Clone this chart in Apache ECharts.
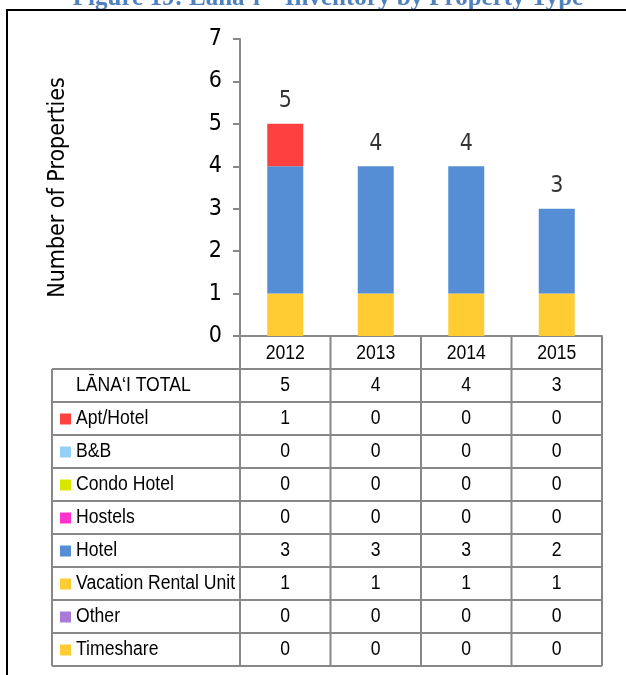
<!DOCTYPE html>
<html>
<head>
<meta charset="utf-8">
<script src="https://cdn.jsdelivr.net/npm/echarts@6/dist/echarts.min.js"></script>
<style>
  html, body { margin: 0; padding: 0; background: #fff; }
  #chart { width: 626px; height: 675px; }
</style>
</head>
<body>
<div id="chart"></div>
<script>
// 数据
var years = ['2012', '2013', '2014', '2015'];
var totals = [5, 4, 4, 3];
var aptHotel = [1, 0, 0, 0];
var bnb = [0, 0, 0, 0];
var condoHotel = [0, 0, 0, 0];
var hostels = [0, 0, 0, 0];
var hotel = [3, 3, 3, 2];
var vacationRental = [1, 1, 1, 1];
var other = [0, 0, 0, 0];
var timeshare = [0, 0, 0, 0];

var FONT = "'DejaVu Sans Condensed', 'Liberation Sans', sans-serif";
var NARROW = "'Liberation Sans', Arial, sans-serif";

// 表格行（顺序同原图）
var rows = [
	{ name: 'Apt/Hotel', color: '#ff4040', data: aptHotel },
	{ name: 'B&B', color: '#93d1f5', data: bnb },
	{ name: 'Condo Hotel', color: '#d9e600', data: condoHotel },
	{ name: 'Hostels', color: '#ff33cc', data: hostels },
	{ name: 'Hotel', color: '#558ed5', data: hotel },
	{ name: 'Vacation Rental Unit', color: '#ffcc33', data: vacationRental },
	{ name: 'Other', color: '#a87bd6', data: other },
	{ name: 'Timeshare', color: '#ffcc33', data: timeshare }
];
// 堆叠顺序（底部在前）
var stackOrder = [7, 6, 5, 4, 3, 2, 1, 0];

var chart = echarts.init(document.getElementById('chart'));

var series = stackOrder.map(function(i) {
	var r = rows[i];
	return {
		name : r.name,
		type : 'bar',
		stack : 'total',
		barWidth : 36,
		itemStyle : { color : r.color },
		data : r.data
	};
});
// 合计标签
series.push({
	name : 'total',
	type : 'scatter',
	data : totals,
	symbolSize : 2,
	itemStyle : { color : 'rgba(0,0,0,0)' },
	label : {
		show : true,
		position : 'top',
		distance : 10,
		fontFamily : FONT,
		fontSize : 23,
		color : '#000'
	},
	silent : true
});

var option = {
	animation : false,
	grid : {
		left : 240,
		right : 24,
		top : 39,
		bottom : 339
	},
	xAxis : [ {
		type : 'category',
		data : years,
		axisLine : { lineStyle : { color : '#888', width : 2 } },
		axisTick : { show : false },
		axisLabel : { show : false }
	} ],
	yAxis : [ {
		type : 'value',
		min : 0,
		max : 7,
		interval : 1,
		name : 'Number of Properties',
		nameLocation : 'middle',
		nameGap : 170,
		nameTextStyle : { fontFamily : FONT, fontSize : 23, color : '#000' },
		splitLine : { show : false },
		axisLine : { show : true, lineStyle : { color : '#888', width : 2 } },
		axisTick : { show : true, length : 7, lineStyle : { color : '#888', width : 2 } },
		axisLabel : {
			fontFamily : FONT,
			fontSize : 23,
			color : '#000',
			margin : 18
		}
	} ],
	series : series
};
chart.setOption(option);

// 数据表：按坐标轴计算位置
var centers = years.map(function(y, i) {
	return chart.convertToPixel({ xAxisIndex : 0 }, i);
});
var gridLeft = 240, gridRight = 626 - 24;
var bounds = [gridLeft];
for (var i = 0; i < centers.length - 1; i++) {
	bounds.push((centers[i] + centers[i + 1]) / 2);
}
bounds.push(gridRight);

var axisY = chart.convertToPixel({ yAxisIndex : 0 }, 0);
var headTop = axisY, headBottom = axisY + 33;
var rowH = 33;
var tableLeft = 52;
var tableBottom = headBottom + rowH * (rows.length + 1);
var lineStyle = { stroke : '#888', lineWidth : 2 };
var graphic = [];

// 标题（被裁切）
graphic.push({
	type : 'text',
	x : 328,
	y : 11,
	style : {
		text : 'Figure 19: Lāna‘i – Inventory by Property Type',
		font : "bold 25px 'Liberation Serif', 'DejaVu Serif', serif",
		fill : '#4f81bd',
		align : 'center',
		verticalAlign : 'bottom'
	}
});
// 外框
graphic.push({ type : 'line', shape : { x1 : 6, y1 : 10, x2 : 626, y2 : 10 }, style : { stroke : '#000', lineWidth : 2 } });
graphic.push({ type : 'line', shape : { x1 : 7, y1 : 10, x2 : 7, y2 : 675 }, style : { stroke : '#000', lineWidth : 2 } });

// 竖线
bounds.forEach(function(x) {
	graphic.push({ type : 'line', shape : { x1 : x, y1 : headTop, x2 : x, y2 : tableBottom }, style : lineStyle });
});
graphic.push({ type : 'line', shape : { x1 : tableLeft, y1 : headBottom, x2 : tableLeft, y2 : tableBottom }, style : lineStyle });
// 横线
for (var k = 0; k <= rows.length + 1; k++) {
	var yy = headBottom + k * rowH;
	graphic.push({ type : 'line', shape : { x1 : tableLeft, y1 : yy, x2 : gridRight, y2 : yy }, style : lineStyle });
}

function cellText(x, y, text, align) {
	return {
		type : 'text',
		x : x,
		y : y,
		scaleX : 0.88,
		style : {
			text : text,
			font : '20px ' + NARROW,
			fill : '#000',
			align : align || 'center',
			verticalAlign : 'middle'
		}
	};
}

// 年份表头
years.forEach(function(yr, i) {
	graphic.push(cellText(centers[i], headTop + 17, yr));
});
// 合计行
var ty = headBottom + rowH / 2;
graphic.push(cellText(76, ty, 'LĀNA‘I TOTAL', 'left'));
totals.forEach(function(v, i) {
	graphic.push(cellText(centers[i], ty, String(v)));
});
// 各类型行
rows.forEach(function(r, k) {
	var cy = headBottom + (k + 1.5) * rowH;
	graphic.push({ type : 'rect', shape : { x : 60, y : cy - 5, width : 11, height : 11 }, style : { fill : r.color } });
	graphic.push(cellText(76, cy, r.name, 'left'));
	r.data.forEach(function(v, i) {
		graphic.push(cellText(centers[i], cy, String(v)));
	});
});

chart.setOption({ graphic : graphic });
</script>
</body>
</html>
